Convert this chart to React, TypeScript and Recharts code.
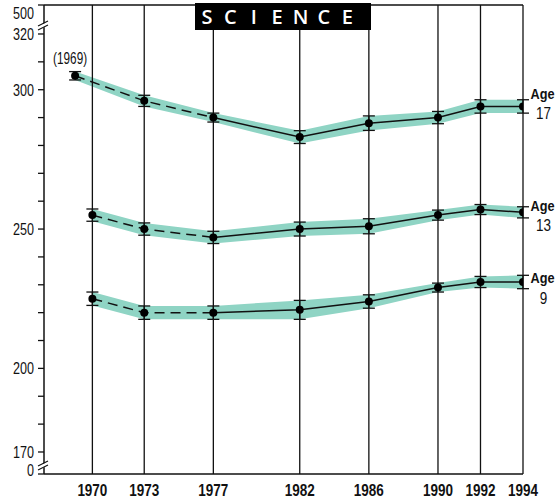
import {
  Area,
  ComposedChart,
  ErrorBar,
  LabelList,
  Line,
  ReferenceLine,
  XAxis,
  YAxis,
} from "recharts";

const YEARS = [1969, 1970, 1973, 1977, 1982, 1986, 1990, 1992, 1994];
const TICK_YEARS = [1970, 1973, 1977, 1982, 1986, 1990, 1992, 1994];

const AGE17 = [305, null, 296, 290, 283, 288, 290, 294, 294];
const AGE13 = [null, 255, 250, 247, 250, 251, 255, 257, 256];
const AGE9 = [null, 225, 220, 220, 221, 224, 229, 231, 231];

const ERR17 = [1.5, null, 2.0, 1.6, 2.3, 2.6, 2.2, 2.4, 2.4];
const ERR13 = [null, 2.2, 2.2, 2.2, 2.5, 2.7, 1.8, 1.8, 2.0];
const ERR9 = [null, 2.4, 2.4, 2.4, 3.4, 2.4, 1.6, 2.0, 2.4];

const SERIES_NAMES = ["a17", "a13", "a9"];
const AGE_LABELS = ["17", "13", "9"];
const DASHED_UNTIL = 1977;

// broken y axis: 0 and 500 sit at the ends of the 170-320 scale
const Y_MIN = 162.1;
const Y_MAX = 330.4;
const Y_TICKS = [Y_MIN, 170, 180, 190, 200, 210, 220, 230, 240, 250, 260, 270, 280, 290, 300, 310, 320, Y_MAX];
const Y_LABELS: Record<string, string> = {
  [String(Y_MIN)]: "0",
  "170": "170",
  "200": "200",
  "250": "250",
  "300": "300",
  "320": "320",
  [String(Y_MAX)]: "500",
};

const TEAL = "#8fd4c4";
const FONT = '"Liberation Sans", Arial, sans-serif';
const AXIS_X = 44;
const AGE_SHIFT = [-13, -7, -4];

// year scale: the last two-year steps are drawn a bit wider
const X_MIN = 1967.2;
const X_MAX = 1994;
const STRETCH_FROM = 1990;
const STRETCH = 1.23;
const warp = (t: number) =>
  t <= STRETCH_FROM ? t : STRETCH_FROM + (t - STRETCH_FROM) * STRETCH;
const unwarp = (w: number) =>
  w <= STRETCH_FROM ? w : STRETCH_FROM + (w - STRETCH_FROM) / STRETCH;

function makeYearScale(dom: number[] = [X_MIN, X_MAX], rng: number[] = [0, 1]): any {
  const scale: any = (t: number) => {
    const a = warp(dom[0]);
    const b = warp(dom[1]);
    return rng[0] + ((warp(Number(t)) - a) / (b - a)) * (rng[1] - rng[0]);
  };
  scale.domain = (d?: number[]) => {
    if (d === undefined) return dom.slice();
    dom = d.map(Number);
    return scale;
  };
  scale.range = (r?: number[]) => {
    if (r === undefined) return rng.slice();
    rng = r.map(Number);
    return scale;
  };
  scale.invert = (px: number) => {
    const a = warp(dom[0]);
    const b = warp(dom[1]);
    return unwarp(a + ((px - rng[0]) / (rng[1] - rng[0])) * (b - a));
  };
  scale.copy = () => makeYearScale(dom.slice(), rng.slice());
  scale.ticks = () => TICK_YEARS;
  scale.tickFormat = () => (v: number) => String(v);
  scale.nice = () => scale;
  return scale;
}

const values = [AGE17, AGE13, AGE9];
const errors = [ERR17, ERR13, ERR9];

const rows = YEARS.map((year, i) => {
  const row: Record<string, any> = { year };
  SERIES_NAMES.forEach((key, s) => {
    const v = values[s][i];
    const e = errors[s][i];
    row[key] = v;
    row[key + "Err"] = e;
    row[key + "Band"] = v == null || e == null ? null : [v - e, v + e];
    row[key + "Dash"] = year <= DASHED_UNTIL ? v : null;
    row[key + "Solid"] = year >= DASHED_UNTIL ? v : null;
  });
  return row;
});

// condensed look: squeeze glyphs to the reference widths
function Narrow({ text, width, bold, anchor = "middle", ...rest }: any) {
  return (
    <text
      textAnchor={anchor}
      dominantBaseline="central"
      fontWeight={bold ? "bold" : "normal"}
      fill="#111"
      textLength={width}
      lengthAdjust="spacingAndGlyphs"
      {...rest}
    >
      {text}
    </text>
  );
}

function YTick(props: any) {
  const { x, y, payload } = props;
  const label = Y_LABELS[String(payload.value)];
  const isTop = payload.value === Y_MAX;
  const isBottom = payload.value === Y_MIN;
  const brk = isTop ? y + 19 : isBottom ? y - 10 : null;
  return (
    <g>
      {label && (
        <Narrow
          x={x}
          y={y + (isTop ? 8 : isBottom ? -4 : 0)}
          anchor="end"
          text={label}
          width={label.length * 7}
          fontSize={16.5}
        />
      )}
      {brk != null && (
        <g>
          <polygon
            points={`${AXIS_X - 3},${brk + 1} ${AXIS_X + 3},${brk - 2} ${AXIS_X + 3},${brk + 2} ${AXIS_X - 3},${brk + 5}`}
            fill="#fff"
          />
          <line x1={AXIS_X - 6} y1={brk + 2} x2={AXIS_X + 4} y2={brk - 3} stroke="#111" strokeWidth={1.2} />
          <line x1={AXIS_X - 6} y1={brk + 6} x2={AXIS_X + 4} y2={brk + 1} stroke="#111" strokeWidth={1.2} />
        </g>
      )}
    </g>
  );
}

function XTick(props: any) {
  const { x, y, payload } = props;
  return (
    <Narrow x={x} y={y + 8} text={String(payload.value)} width={30} bold fontSize={16.5} />
  );
}

function ageLabel(s: number) {
  return (props: any) => {
    const { x, y, index } = props;
    if (index !== YEARS.length - 1) return null;
    const cx = x + 19.5;
    const top = y + AGE_SHIFT[s];
    const num = AGE_LABELS[s];
    return (
      <g>
        <Narrow x={cx} y={top} text="Age" width={24} bold fontSize={15.5} />
        <Narrow x={cx + 1} y={top + 20} text={num} width={num.length * 7.5} fontSize={16.5} />
      </g>
    );
  };
}

function firstYearLabel(props: any) {
  const { x, y, index } = props;
  if (index !== 0) return null;
  return <Narrow x={x - 5} y={y - 17} text="(1969)" width={34} fontSize={17} />;
}

export default function App() {
  return (
    <div
      style={{
        position: "absolute",
        left: 0,
        top: 0,
        width: 558,
        height: 502,
        background: "#fff",
        fontFamily: FONT,
      }}
    >
      <ComposedChart
        width={558}
        height={502}
        data={rows}
        margin={{ top: 5, right: 35, bottom: 0, left: 0 }}
      >
        <XAxis
          dataKey="year"
          type="number"
          domain={[X_MIN, X_MAX]}
          scale={makeYearScale()}
          ticks={TICK_YEARS}
          allowDataOverflow
          height={28}
          tickLine={false}
          axisLine={{ stroke: "#111", strokeWidth: 1.5 }}
          tick={<XTick />}
          interval={0}
        />
        <YAxis
          type="number"
          domain={[Y_MIN, Y_MAX]}
          ticks={Y_TICKS}
          allowDataOverflow
          width={44}
          tickSize={6}
          tickMargin={4}
          tickLine={{ stroke: "#111", strokeWidth: 1.3 }}
          axisLine={{ stroke: "#111", strokeWidth: 1.5 }}
          tick={<YTick />}
          interval={0}
        />
        {SERIES_NAMES.map((key) => (
          <Area
            key={key + "band"}
            dataKey={key + "Band"}
            type="linear"
            fill={TEAL}
            fillOpacity={1}
            stroke="none"
            connectNulls
            activeDot={false}
            isAnimationActive={false}
          />
        ))}
        {TICK_YEARS.map((yr) => (
          <ReferenceLine key={yr} x={yr} stroke="#111" strokeWidth={1.3} />
        ))}
        <ReferenceLine y={Y_MAX} stroke="#111" strokeWidth={1.5} />
        {SERIES_NAMES.map((key) => (
          <Line
            key={key + "dash"}
            dataKey={key + "Dash"}
            type="linear"
            stroke="#111"
            strokeWidth={1.5}
            strokeDasharray="10 6"
            dot={false}
            activeDot={false}
            connectNulls
            isAnimationActive={false}
          />
        ))}
        {SERIES_NAMES.map((key) => (
          <Line
            key={key + "solid"}
            dataKey={key + "Solid"}
            type="linear"
            stroke="#111"
            strokeWidth={1.5}
            dot={false}
            activeDot={false}
            isAnimationActive={false}
          />
        ))}
        {SERIES_NAMES.map((key, s) => (
          <Line
            key={key + "pts"}
            dataKey={key}
            type="linear"
            stroke="none"
            dot={{ r: 4, fill: "#000", stroke: "none" }}
            activeDot={false}
            connectNulls
            isAnimationActive={false}
          >
            <ErrorBar dataKey={key + "Err"} direction="y" width={6} stroke="#111" strokeWidth={1.3} />
            <LabelList dataKey={key} content={ageLabel(s)} />
            {s === 0 && <LabelList dataKey={key} content={firstYearLabel} />}
          </Line>
        ))}
      </ComposedChart>
      <div
        style={{
          position: "absolute",
          left: 195,
          top: 3,
          width: 176,
          height: 27,
          background: "#000",
          color: "#fff",
          display: "flex",
          alignItems: "center",
          fontFamily: '"Open Sans", sans-serif',
          fontWeight: 600,
          fontSize: 20,
        }}
      >
        {"SCIENCE".split("").map((ch, i) => (
          <span key={i} style={{ width: 23.4, textAlign: "center", marginLeft: i === 0 ? 0.3 : 0 }}>
            {ch}
          </span>
        ))}
      </div>
    </div>
  );
}
